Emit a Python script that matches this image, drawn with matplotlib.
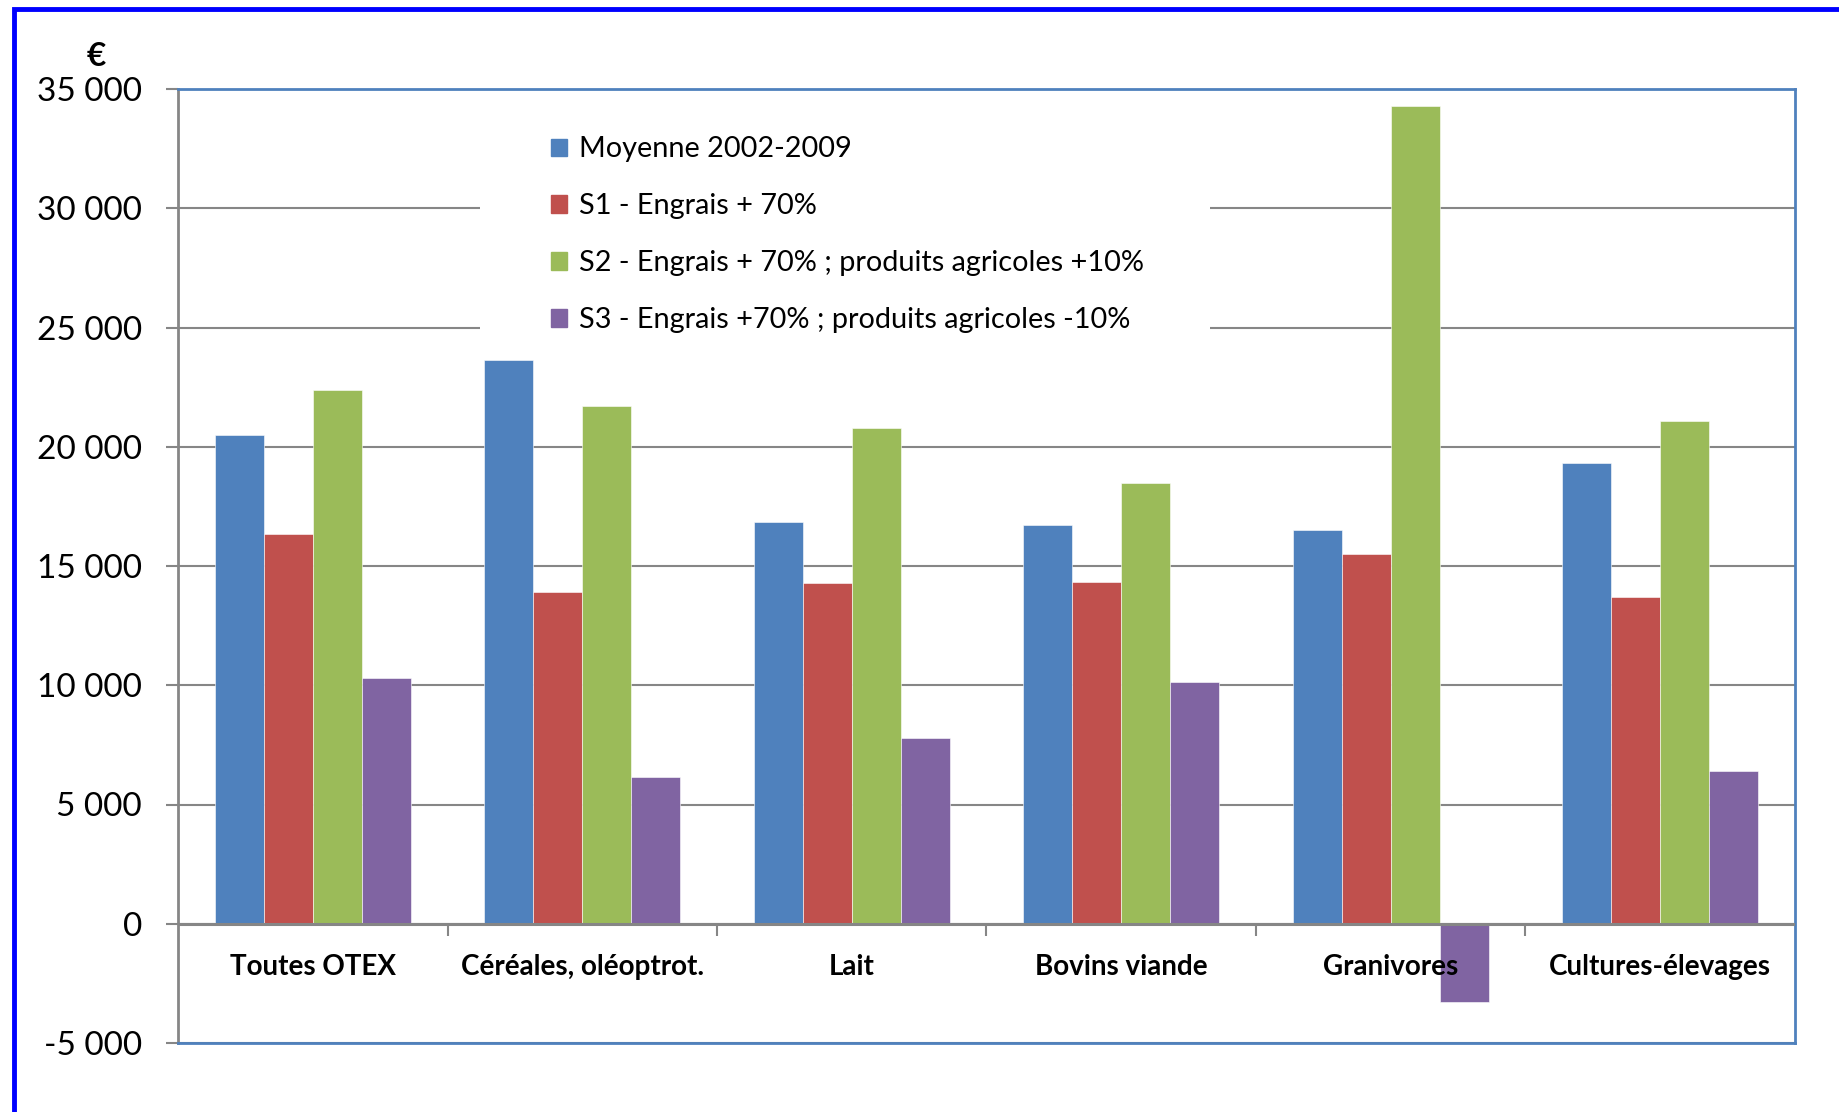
import matplotlib.pyplot as plt
import matplotlib.patches as mpatches
import matplotlib.transforms as mtransforms
import numpy as np

plt.rcParams['font.family'] = ['Lato', 'DejaVu Sans']

# --------------------------------------------------
# data
# --------------------------------------------------
categories = ["Toutes OTEX", "Céréales, oléoptrot.", "Lait",
              "Bovins viande", "Granivores", "Cultures-élevages"]

moyenne = [20500, 23650, 16850, 16700, 16500, 19300]
s1 = [16350, 13900, 14300, 14320, 15500, 13700]
s2 = [22370, 21700, 20800, 18500, 34300, 21080]
s3 = [10320, 6150, 7780, 10130, -3300, 6400]

series = [moyenne, s1, s2, s3]
labels = [
    "Moyenne 2002-2009",
    "S1 - Engrais + 70%",
    "S2 - Engrais + 70% ; produits agricoles +10%",
    "S3 - Engrais +70% ; produits agricoles -10%",
]
colors = ["#4F81BD", "#C0504D", "#9BBB59", "#8064A2"]

yticks = [-5000, 0, 5000, 10000, 15000, 20000, 25000, 30000, 35000]

GRAY = "#868686"
AXBLUE = "#4F81BD"

# --------------------------------------------------
# figure
# --------------------------------------------------
W, H = 1839, 1112
fig = plt.figure(figsize=(W / 100, H / 100), dpi=100)

# blue frame around the whole picture (only top/left visible)
fig.patches.append(mpatches.Rectangle(
    (14 / W, -0.1), 1.2, (H - 9) / H + 0.1,
    transform=fig.transFigure, fill=False,
    edgecolor="#0000FF", linewidth=3.5, zorder=0))

ax = fig.add_axes([178 / W, (H - 1043) / H, (1795 - 178) / W, (1043 - 89) / H])

n = len(series)
bw = 1 / 5.5
x = np.arange(len(categories))
for i, (vals, col, lab) in enumerate(zip(series, colors, labels)):
    offs = (i - (n - 1) / 2) * bw
    ax.bar(x + offs, vals, width=bw, color=col, label=lab,
           edgecolor="white", linewidth=0.4, zorder=3)

ax.set_xlim(-0.5, len(categories) - 0.5)
ax.set_ylim(-5000, 35000)

# gridlines
for yv in yticks:
    ax.axhline(yv, color=GRAY, linewidth=1.5, zorder=1)
ax.axhline(0, color=GRAY, linewidth=2.2, zorder=4)

# small tick marks on category axis between groups
bounds = np.arange(len(categories) + 1) - 0.5
ax.vlines(bounds[1:-1], -500, 0, color=GRAY, linewidth=1.5, zorder=4)

ax.set_yticks(yticks)
ax.set_yticklabels([f"{v:,}".replace(",", " ") for v in yticks], fontsize=24)
ax.tick_params(axis="y", direction="out", length=9, width=1.5, color=GRAY, pad=17)
ax.set_xticks([])

for side in ["top", "right", "bottom"]:
    ax.spines[side].set_color(AXBLUE)
    ax.spines[side].set_linewidth(2)
ax.spines["left"].set_color(GRAY)
ax.spines["left"].set_linewidth(2)

# category labels below the zero line
trans = mtransforms.blended_transform_factory(ax.transData, ax.transAxes)
for xi, cat in zip(x, categories):
    ax.text(xi, 0.08, cat, transform=trans, ha="center", va="center",
            fontsize=20, fontweight="bold", zorder=6)

# white box behind the legend
ax.add_patch(mpatches.Rectangle((0.187, 0.74), 0.451, 0.24,
                                transform=ax.transAxes, facecolor="white",
                                edgecolor="none", zorder=2))

handles = [mpatches.Patch(color=c, label=l) for c, l in zip(colors, labels)]
fig.legend(handles=handles, loc="upper left",
           bbox_to_anchor=(537 / W, (H - 122) / H),
           frameon=False, fontsize=20.8, handlelength=0.55, handleheight=0.55,
           handletextpad=0.42, labelspacing=1.07, borderpad=0)

# euro sign above the axis
fig.text(96 / W, (H - 56) / H, "€", fontsize=24, fontweight="bold",
         ha="center", va="center")

fig.savefig("out.png", dpi=100)
